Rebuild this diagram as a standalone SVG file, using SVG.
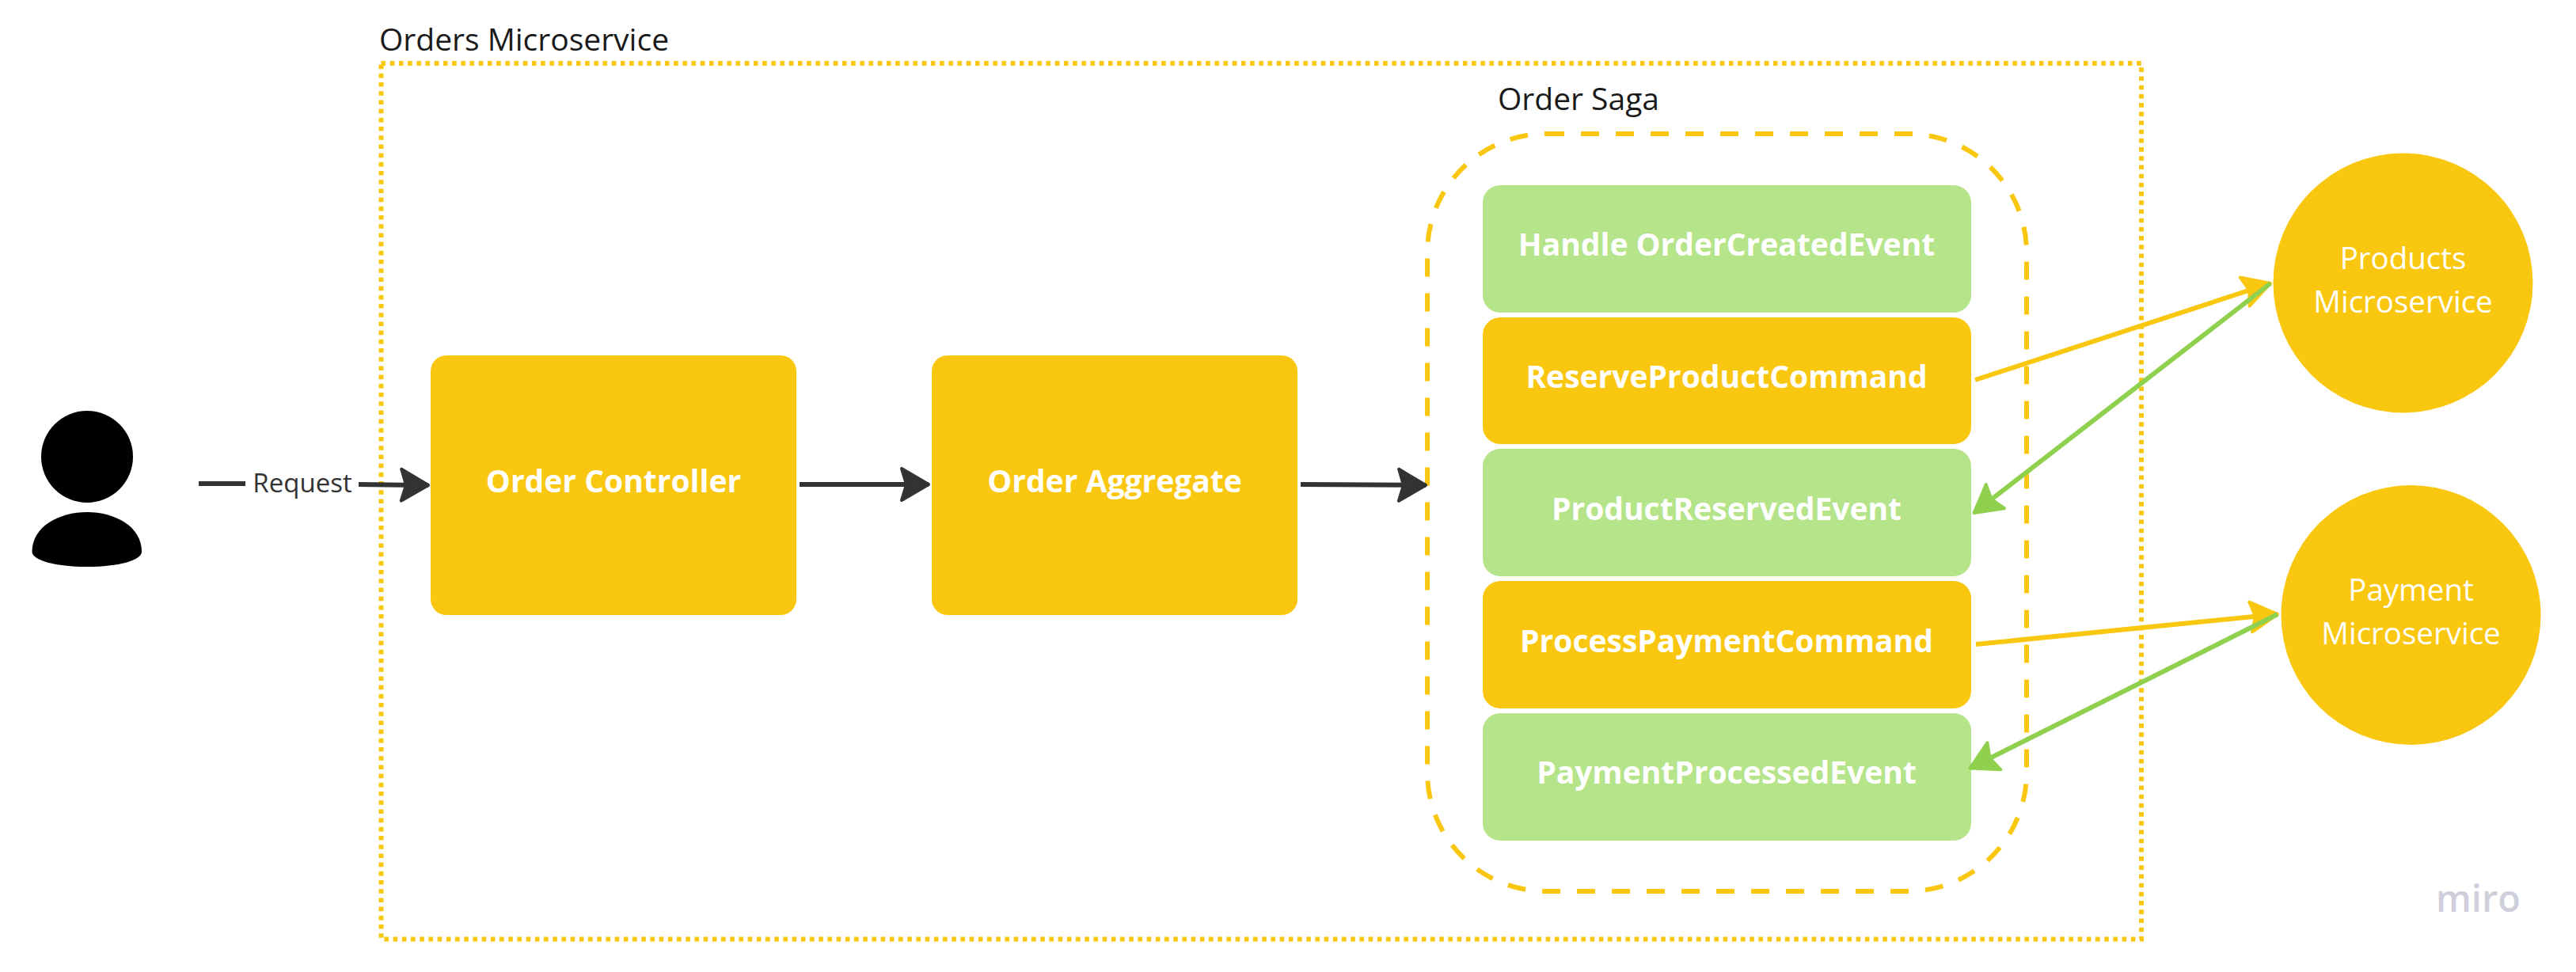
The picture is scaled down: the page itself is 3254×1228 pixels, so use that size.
<svg xmlns="http://www.w3.org/2000/svg" width="3254" height="1228" viewBox="0 0 3254 1228">
<style>
text{font-family:"Open Sans","Noto Sans","Liberation Sans",sans-serif}
.y{fill:#fac710}.g{fill:#b5e48a}
.b{fill:#fff;font-weight:700;font-size:39px;text-anchor:middle}
.c{fill:#fff;font-size:38.500px;text-anchor:middle}
.t{fill:#1a1a1a;font-size:39px}
.ln{fill:none;stroke-width:6}
</style>
<defs>
<marker id="ad" markerUnits="userSpaceOnUse" markerWidth="46" markerHeight="52" viewBox="0 0 46 52" refX="41" refY="26" orient="auto"><path d="M7 6 L41 26 L7 46 L13 26Z" fill="#333" stroke="#333" stroke-width="4" stroke-linejoin="round"/></marker>
<marker id="ay" markerUnits="userSpaceOnUse" markerWidth="46" markerHeight="52" viewBox="0 0 46 52" refX="41" refY="26" orient="auto"><path d="M7 7 L41 26 L7 45 L13 26Z" fill="#fac710" stroke="#fac710" stroke-width="4" stroke-linejoin="round"/></marker>
<marker id="ag" markerUnits="userSpaceOnUse" markerWidth="46" markerHeight="52" viewBox="0 0 46 52" refX="41" refY="26" orient="auto"><path d="M7 7 L41 26 L7 45 L13 26Z" fill="#8fd14f" stroke="#8fd14f" stroke-width="4" stroke-linejoin="round"/></marker>
</defs>
<rect width="3254" height="1228" fill="#fff"/>
<g id="orders-microservice">
<rect x="481.500" y="80" width="2223.500" height="1106.500" fill="none" stroke="#fac710" stroke-width="6" stroke-dasharray="5.600 5.600"/>
<text class="t" x="479" y="64">Orders Microservice</text>
</g>
<g id="order-saga">
<rect x="1803" y="169" width="757" height="957" rx="150" ry="150" fill="none" stroke="#fac710" stroke-width="6" stroke-dasharray="23 21"/>
<text class="t" x="1892" y="139">Order Saga</text>
</g>
<g id="user">
<circle cx="110" cy="577" r="58"/>
<path d="M40.500 697C40.500 665 75 647 110 647C145 647 179 665 179 697C179 708 150 716 110 716C70 716 40.500 708 40.500 697Z"/>
</g>
<g id="order-controller"><rect class="y" x="544" y="449" width="462" height="328" rx="20"/><text class="b" x="775" y="622">Order Controller</text></g>
<g id="order-aggregate"><rect class="y" x="1177" y="449" width="462" height="328" rx="20"/><text class="b" x="1408" y="622">Order Aggregate</text></g>
<g id="handle-order-created"><rect class="g" x="1873" y="234" width="617" height="161" rx="22"/><text class="b" x="2181" y="323">Handle OrderCreatedEvent</text></g>
<g id="reserve-product"><rect class="y" x="1873" y="401" width="617" height="160" rx="22"/><text class="b" x="2181" y="490">ReserveProductCommand</text></g>
<g id="product-reserved"><rect class="g" x="1873" y="567" width="617" height="161" rx="22"/><text class="b" x="2181" y="657">ProductReservedEvent</text></g>
<g id="process-payment"><rect class="y" x="1873" y="734" width="617" height="161" rx="22"/><text class="b" x="2181" y="824">ProcessPaymentCommand</text></g>
<g id="payment-processed"><rect class="g" x="1873" y="901" width="617" height="161" rx="22"/><text class="b" x="2181" y="990">PaymentProcessedEvent</text></g>
<g id="products-microservice"><circle class="y" cx="3035.500" cy="357.500" r="164"/><text class="c" x="3035.500" y="340">Products</text><text class="c" x="3035.500" y="395">Microservice</text></g>
<g id="payment-microservice"><circle class="y" cx="3045.500" cy="777" r="164"/><text class="c" x="3045.500" y="759">Payment</text><text class="c" x="3045.500" y="814">Microservice</text></g>
<g id="connectors">
<path class="ln" stroke="#333" d="M251 611H310"/>
<path class="ln" stroke="#333" marker-end="url(#ad)" d="M453 612L541 613"/>
<text x="382" y="622" fill="#333" font-size="33" text-anchor="middle">Request</text>
<path class="ln" stroke="#333" marker-end="url(#ad)" d="M1010 612L1173 612"/>
<path class="ln" stroke="#333" marker-end="url(#ad)" d="M1643 612L1801 613"/>
<path class="ln" stroke="#fac710" marker-end="url(#ay)" d="M2495 480L2868 358"/>
<path class="ln" stroke="#8fd14f" marker-end="url(#ag)" d="M2868 358L2493.500 648"/>
<path class="ln" stroke="#fac710" marker-end="url(#ay)" d="M2496 814L2877 776"/>
<path class="ln" stroke="#8fd14f" marker-end="url(#ag)" d="M2877 776L2488.500 970.500"/>
</g>
<text id="miro" x="3077" y="1152" fill="#cfcfdc" font-size="47" font-weight="600" textLength="107" lengthAdjust="spacing">miro</text>
</svg>
